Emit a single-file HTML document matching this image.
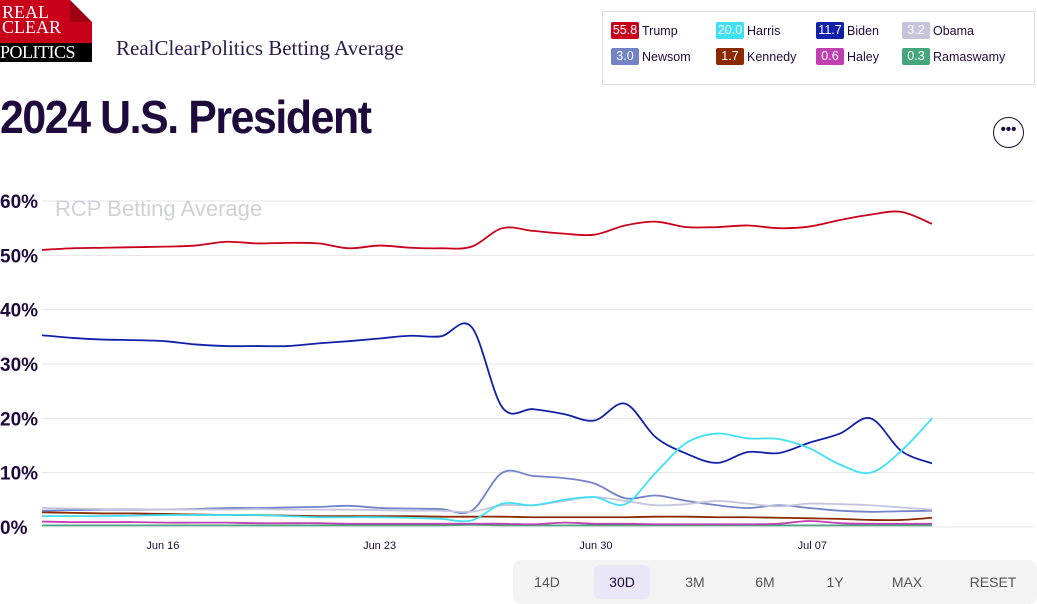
<!DOCTYPE html>
<html><head><meta charset="utf-8">
<style>
body{margin:0;width:1037px;height:604px;background:#fff;font-family:"Liberation Sans",sans-serif;overflow:hidden;position:relative;color:#1e0a3c}
.abs{position:absolute}
.leg{position:absolute;font-size:12.5px;display:flex;align-items:center;height:17px;color:#1e0a3c}
.badge{display:inline-block;width:28px;height:17px;line-height:17px;color:#fff;text-align:center;border-radius:2px;margin-right:3px;font-size:12.5px}
.btn{position:absolute;top:565px;height:34px;line-height:34px;font-size:14px;color:#555;text-align:center}
</style></head><body>
<div class="abs" style="left:0;top:0;width:92px;height:62px;background:#c8001a;">
 <div style="position:absolute;right:0;top:0;width:0;height:0;border-left:11px solid #a00014;border-bottom:11px solid #a00014;border-top:11px solid #fff;border-right:11px solid #fff;"></div>
 <div style="position:absolute;left:2px;top:5px;font-family:'Liberation Serif',serif;font-size:18px;line-height:15px;color:#fff">REAL<br>CLEAR</div>
 <div style="position:absolute;left:0;top:43px;width:92px;height:19px;background:#000;color:#fff;font-family:'Liberation Serif',serif;font-size:18px;line-height:19px;letter-spacing:-0.5px">POLITICS</div>
</div>
<div class="abs" style="left:116px;top:36px;font-family:'Liberation Serif',serif;font-size:21px;color:#2a1a4a">RealClearPolitics Betting Average</div>
<div class="abs" style="left:0;top:90px;font-size:46px;font-weight:bold;letter-spacing:-1.5px;transform:scaleX(0.93);transform-origin:left;color:#1e0a3c">2024 U.S. President</div>
<div class="abs" style="left:993px;top:117px;width:31px;height:31px;border:1.5px solid #1e0a3c;border-radius:50%;box-sizing:border-box;text-align:center;line-height:24px;font-size:15px;font-weight:bold">•••</div>
<div class="abs" style="left:602px;top:11px;width:433px;height:74px;border:1px solid #ddd;box-sizing:border-box"></div>
<div id="legend"></div>
<svg id="chart" class="abs" style="left:0;top:0" width="1037" height="604"></svg>
<div class="abs" style="left:513px;top:560px;width:524px;height:44px;background:#f3f3f3;border-radius:8px"></div>
<div class="abs" style="left:594px;top:565px;width:56px;height:34px;background:#e9e6f7;border-radius:6px"></div>
<div class="btn" style="left:527px;width:40px">14D</div>
<div class="btn" style="left:602px;width:40px;color:#1e0a3c">30D</div>
<div class="btn" style="left:675px;width:40px">3M</div>
<div class="btn" style="left:745px;width:40px">6M</div>
<div class="btn" style="left:815px;width:40px">1Y</div>
<div class="btn" style="left:887px;width:40px">MAX</div>
<div class="btn" style="left:965px;width:56px">RESET</div>
<script>
const names=["Trump","Harris","Biden","Obama","Newsom","Kennedy","Haley","Ramaswamy"];
const colors=["#c8001a","#3ee0f5","#1020a8","#c4c4dc","#7283c8","#8b2a00","#c040b0","#45a67e"];
const latest=["55.8","20.0","11.7","3.2","3.0","1.7","0.6","0.3"];
const trump=[51,51.3,51.4,51.5,51.6,51.8,52.5,52.2,52.3,52.2,51.3,51.8,51.4,51.3,51.6,55,54.5,54,53.8,55.5,56.2,55.2,55.2,55.5,55,55.3,56.5,57.5,58,55.8];
const harris=[2,2,2,2.1,2.2,2.2,2.2,2.2,2,1.8,1.8,1.8,1.7,1.5,1.2,4.3,4,5,5.5,4.2,10,15.5,17.2,16.3,16.2,14.5,11.5,10,14,20];
const biden=[35.3,34.8,34.5,34.4,34.2,33.6,33.3,33.3,33.3,33.8,34.2,34.7,35.2,35.1,36.8,22,21.7,20.8,19.6,22.7,16.5,13.5,11.8,13.8,13.6,15.5,17.2,20,14,11.7];
const obama=[3.5,3.4,3.3,3.3,3.2,3.2,3.2,3.3,3.2,3.2,3.2,3.1,3,3,2.8,4,4,4.8,5.5,4.8,4,4.2,4.8,4.3,3.8,4.3,4.2,4,3.6,3.2];
const newsom=[3,3.1,3.2,3.2,3.2,3.3,3.5,3.5,3.6,3.7,3.9,3.5,3.4,3.3,3,10,9.4,9,8,5.3,5.8,4.8,4,3.5,4,3.5,3,2.8,2.9,3];
const kennedy=[2.7,2.6,2.5,2.5,2.4,2.3,2.2,2.2,2.1,2,2,2,2,1.9,1.9,1.9,1.8,1.8,1.8,1.8,1.9,1.9,1.8,1.8,1.7,1.6,1.5,1.3,1.3,1.7];
const haley=[1,0.9,0.9,0.9,0.8,0.8,0.8,0.7,0.7,0.7,0.6,0.6,0.6,0.6,0.6,0.6,0.5,0.8,0.6,0.6,0.5,0.5,0.5,0.5,0.6,1.1,0.7,0.6,0.6,0.6];
const ramaswamy=[0.3,0.3,0.3,0.3,0.3,0.3,0.3,0.3,0.3,0.3,0.3,0.3,0.3,0.3,0.4,0.3,0.3,0.3,0.3,0.3,0.3,0.3,0.3,0.3,0.3,0.3,0.3,0.3,0.3,0.3];
const series=[trump,harris,biden,obama,newsom,kennedy,haley,ramaswamy];
const yTicks=[0,10,20,30,40,50,60];
const xTickLabels=["Jun 16","Jun 23","Jun 30","Jul 07"];
const xTickIdx=[3.94,11.0,18.05,25.1];
const NS="http://www.w3.org/2000/svg";
const svg=document.getElementById('chart');
const X=i=>42+i*(890/29);
const Y=v=>527-v*5.433;
function mk(t,a){const e=document.createElementNS(NS,t);for(const k in a)e.setAttribute(k,a[k]);svg.appendChild(e);return e;}
yTicks.forEach(t=>{
 const l=mk('line',{x1:42,x2:1033,y1:Y(t),y2:Y(t),stroke:'#e4e4e4','stroke-width':1});
 
 
 const tx=mk('text',{x:0,y:Y(t)+7,'font-size':19,'font-weight':'bold',fill:'#1e0a3c','font-family':'Liberation Sans, sans-serif'});
 tx.textContent=t+'%';
 
 
});
const wm=mk('text',{x:55,y:216,'font-size':22,fill:'#d0d0d8','font-family':'Liberation Sans, sans-serif'});
wm.textContent='RCP Betting Average';


xTickLabels.forEach((s,i)=>{
 const tx=mk('text',{x:X(xTickIdx[i]),y:549,'font-size':11,fill:'#1e0a3c','text-anchor':'middle','font-family':'Liberation Sans, sans-serif'});
 tx.textContent=s;
 
 
});
function pathD(a){
 const p=a.map((v,i)=>[X(i),Y(v)]);
 let d='M'+p[0][0]+','+p[0][1];
 for(let i=0;i<p.length-1;i++){
  const p0=p[Math.max(0,i-1)],p1=p[i],p2=p[i+1],p3=p[Math.min(p.length-1,i+2)];
  const c1=[p1[0]+(p2[0]-p0[0])/6,p1[1]+(p2[1]-p0[1])/6];
  const c2=[p2[0]-(p3[0]-p1[0])/6,p2[1]-(p3[1]-p1[1])/6];
  d+=`C${c1[0]},${c1[1]} ${c2[0]},${c2[1]} ${p2[0]},${p2[1]}`;
 }
 return d;
}
for(let k=series.length-1;k>=0;k--){
 const p=mk('path',{d:pathD(series[k]),fill:'none',stroke:colors[k],'stroke-width':1.8});
 
 
}
const lg=document.getElementById('legend');
const colX=[611,716,816,902],rowY=[22,48];
names.forEach((n,i)=>{
 const d=document.createElement('div');
 d.className='leg';
 d.style.left=colX[i%4]+'px';d.style.top=rowY[Math.floor(i/4)]+'px';
 d.innerHTML=`<span class="badge" style="background:${colors[i]}">${latest[i]}</span>${n}`;
 
 
 lg.appendChild(d);
});
</script>
</body></html>
